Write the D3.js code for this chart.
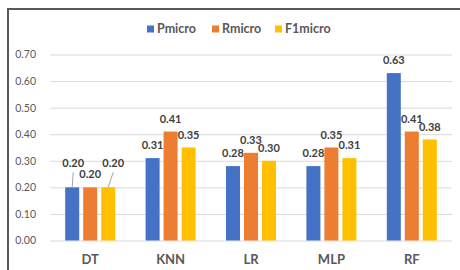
<!DOCTYPE html>
<html>
<head>
<meta charset="utf-8">
<script src="https://cdn.jsdelivr.net/npm/d3@7"></script>
<style>
html, body { margin: 0; padding: 0; background: #fff; }
svg { display: block; font-family: Lato, "Open Sans", sans-serif; }
</style>
</head>
<body>
<svg id="chart" width="460" height="270"></svg>
<script>
const categories = ["DT", "KNN", "LR", "MLP", "RF"];
const seriesNames = ["Pmicro", "Rmicro", "F1micro"];
const pmicro = [0.20, 0.31, 0.28, 0.28, 0.63];
const rmicro = [0.20, 0.41, 0.33, 0.35, 0.41];
const f1micro = [0.20, 0.35, 0.30, 0.31, 0.38];
const yTicks = [0.00, 0.10, 0.20, 0.30, 0.40, 0.50, 0.60, 0.70];

const seriesValues = [pmicro, rmicro, f1micro];
const colors = ["#4472C4", "#ED7D31", "#FFC000"];

const svg = d3.select("#chart");

// frame (top & left border)
svg.append("line").attr("x1", 8).attr("x2", 460).attr("y1", 9).attr("y2", 9)
  .attr("stroke", "#595959").attr("stroke-width", 2);
svg.append("line").attr("x1", 8).attr("x2", 8).attr("y1", 8).attr("y2", 270)
  .attr("stroke", "#595959").attr("stroke-width", 2);

const mLeft = 50, mRight = 452, mTop = 54.5, mBottom = 240.5;

const y = d3.scaleLinear().domain([0, 0.7]).range([mBottom, mTop]);
const x0 = d3.scaleBand().domain(categories).range([mLeft, mRight]).padding(0);
const groupW = 50;
const x1 = d3.scaleBand().domain(seriesNames).range([0, groupW]).paddingInner(0.222).paddingOuter(0);
const groupOff = (x0.bandwidth() - groupW) / 2;

// gridlines
const yAxis = d3.axisLeft(y).tickValues(yTicks).tickFormat(d3.format(".2f"))
  .tickSize(-(mRight - mLeft)).tickPadding(14);
const gy = svg.append("g").attr("transform", `translate(${mLeft},0)`).call(yAxis);
gy.select(".domain").remove();
gy.selectAll(".tick line").attr("stroke", "#D9D9D9").attr("stroke-width", 1);
gy.selectAll(".tick text").attr("fill", "#595959").attr("font-size", "10.5px")
  .attr("font-family", "Lato, sans-serif");

// x axis labels
const xAxis = d3.axisBottom(x0).tickSize(0).tickPadding(14);
const gx = svg.append("g").attr("transform", `translate(0,${mBottom})`).call(xAxis);
gx.select(".domain").remove();
gx.selectAll(".tick text").attr("fill", "#595959").attr("font-size", "13px")
  .attr("font-weight", "bold").attr("font-family", "Lato, sans-serif");

// bars
const data = [];
categories.forEach((c, i) => {
  seriesNames.forEach((s, j) => {
    data.push({ cat: c, ser: s, si: j, ci: i, v: seriesValues[j][i] });
  });
});

const bars = svg.append("g");
bars.selectAll("rect").data(data).enter().append("rect")
  .attr("x", d => x0(d.cat) + groupOff + x1(d.ser))
  .attr("y", d => y(d.v))
  .attr("width", x1.bandwidth())
  .attr("height", d => y(0) - y(d.v))
  .attr("fill", d => colors[d.si]);

// labels; for a category where all values coincide, outer labels are lifted with leader lines
const labels = svg.append("g");
data.forEach(d => {
  const vals = seriesValues.map(a => a[d.ci]);
  const tied = vals.every(v => v === vals[0]);
  const cx = x0(d.cat) + groupOff + x1(d.ser) + x1.bandwidth() / 2;
  let ly = y(d.v) - 9;
  let lx = cx;
  if (tied && d.si !== 1) {
    ly = y(d.v) - 20;
    lx = d.si === 2 ? cx + 5 : cx + 1;
    labels.append("line")
      .attr("x1", lx).attr("y1", ly + 5)
      .attr("x2", cx).attr("y2", y(d.v))
      .attr("stroke", "#A6A6A6").attr("stroke-width", 1);
  }
  labels.append("text")
    .attr("x", lx).attr("y", ly)
    .attr("text-anchor", "middle")
    .attr("font-size", "11px").attr("font-weight", "bold")
    .attr("fill", "#404040")
    .text(d3.format(".2f")(d.v));
});

// legend
const legendX = [147, 212, 275];
const lg = svg.append("g");
seriesNames.forEach((s, j) => {
  lg.append("rect").attr("x", legendX[j]).attr("y", 25.5).attr("width", 7).attr("height", 7)
    .attr("fill", colors[j]);
  lg.append("text").attr("x", legendX[j] + 10).attr("y", 33)
    .attr("font-size", "12.5px").attr("font-weight", "bold").attr("fill", "#595959")
    .text(s);
});
</script>
</body>
</html>
